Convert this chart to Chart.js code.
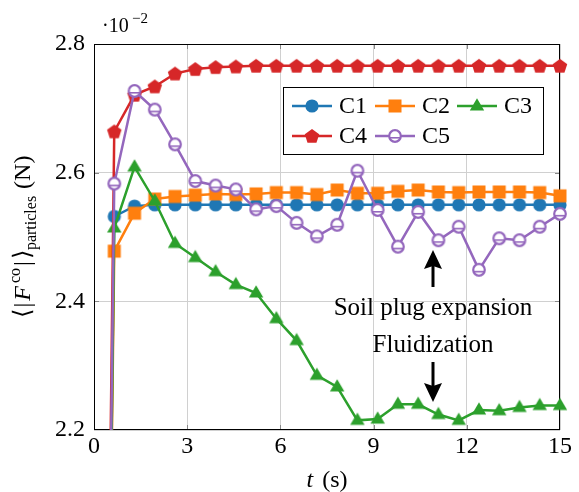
<!DOCTYPE html>
<html lang="en">
<head>
<meta charset="UTF-8">
<title>Contact force vs time</title>
<script src="https://cdn.jsdelivr.net/npm/chart.js@4.4.1/dist/chart.umd.min.js"></script>
<style>
  body { margin: 0; background: #fff; }
  #wrap { width: 579px; height: 492px; position: relative; }
</style>
</head>
<body>
<div id="wrap"><canvas id="forceChart"></canvas></div>
<script>
// time samples (s)
const times = [0, 0.652, 1.304, 1.957, 2.609, 3.261, 3.913, 4.565, 5.217, 5.870, 6.522, 7.174,
               7.826, 8.478, 9.130, 9.783, 10.435, 11.087, 11.739, 12.391, 13.043, 13.696, 14.348, 15];

// mean contact force, x 1e-2 N
const c1 = [0, 2.532, 2.548, 2.550, 2.550, 2.550, 2.550, 2.550, 2.550, 2.550, 2.550, 2.550,
            2.550, 2.550, 2.550, 2.550, 2.550, 2.550, 2.550, 2.550, 2.550, 2.550, 2.550, 2.550];
const c2 = [0, 2.478, 2.537, 2.559, 2.563, 2.565, 2.567, 2.566, 2.567, 2.569, 2.569, 2.566,
            2.573, 2.568, 2.568, 2.571, 2.573, 2.570, 2.569, 2.570, 2.570, 2.570, 2.569, 2.564];
const c3 = [0, 2.514, 2.609, 2.556, 2.490, 2.468, 2.446, 2.426, 2.413, 2.373, 2.339, 2.285,
            2.267, 2.215, 2.217, 2.240, 2.240, 2.224, 2.215, 2.231, 2.230, 2.235, 2.238, 2.238];
const c4 = [0, 2.664, 2.721, 2.734, 2.754, 2.761, 2.764, 2.765, 2.766, 2.766, 2.766, 2.766,
            2.766, 2.766, 2.766, 2.766, 2.766, 2.766, 2.766, 2.766, 2.766, 2.766, 2.766, 2.766];
const c5 = [0, 2.583, 2.727, 2.698, 2.644, 2.587, 2.580, 2.574, 2.543, 2.548, 2.522, 2.501,
            2.519, 2.603, 2.542, 2.485, 2.539, 2.495, 2.516, 2.449, 2.498, 2.495, 2.516, 2.536];

const seriesNames = ['C1', 'C2', 'C3', 'C4', 'C5'];
const xTicks = [0, 3, 6, 9, 12, 15];
const yTicks = [2.2, 2.4, 2.6, 2.8];

const colors = ['#1f77b4', '#ff7f0e', '#2ca02c', '#d62728', '#9467bd'];
const serif = '"Liberation Serif", "Times New Roman", serif';

// marker images
function makeMarker(draw) {
    const c = document.createElement('canvas');
    c.width = 20; c.height = 20;
    draw(c.getContext('2d'));
    return c;
}
const markers = [
    makeMarker(g => { g.fillStyle = colors[0]; g.beginPath(); g.arc(10, 10, 6.6, 0, Math.PI * 2); g.fill(); }),
    makeMarker(g => { g.fillStyle = colors[1]; g.fillRect(3.5, 3.5, 13, 13); }),
    makeMarker(g => {
        g.fillStyle = colors[2]; g.beginPath();
        g.moveTo(10, 2.2); g.lineTo(17.2, 14.6); g.lineTo(2.8, 14.6); g.closePath(); g.fill();
    }),
    makeMarker(g => {
        g.fillStyle = colors[3]; g.beginPath();
        for (let k = 0; k < 5; k++) {
            const a = -Math.PI / 2 + k * 2 * Math.PI / 5;
            const px = 10 + 7.6 * Math.cos(a), py = 10.6 + 7.6 * Math.sin(a);
            if (k === 0) g.moveTo(px, py); else g.lineTo(px, py);
        }
        g.closePath(); g.fill();
    }),
    makeMarker(g => {
        g.fillStyle = '#fff'; g.strokeStyle = colors[4]; g.lineWidth = 2.2;
        g.beginPath(); g.arc(10, 10, 5.8, 0, Math.PI * 2); g.fill(); g.stroke();
        g.lineWidth = 1.6; g.beginPath(); g.moveTo(4.6, 11.8); g.lineTo(15.4, 11.8); g.stroke();
    })
];

const allSeries = [c1, c2, c3, c4, c5];
const datasets = allSeries.map((vals, k) => ({
    label: seriesNames[k],
    data: times.map((t, i) => ({ x: t, y: vals[i] })),
    borderColor: colors[k],
    backgroundColor: colors[k],
    borderWidth: 2.5,
    pointStyle: markers[k],
    pointRadius: 6,
    pointHoverRadius: 6,
    tension: 0,
    fill: false,
    order: 5 - k,
    clip: { left: 12, right: 12, top: 12, bottom: 0 }
}));

const decor = {
    id: 'decor',
    beforeDatasetsDraw(chart) {
        const { ctx, chartArea: a, scales } = chart;
        ctx.save();
        ctx.strokeStyle = '#888'; ctx.lineWidth = 1;
        xTicks.slice(1, -1).forEach(v => {
            const px = Math.round(scales.x.getPixelForValue(v)) + 0.5;
            ctx.beginPath();
            ctx.moveTo(px, a.bottom); ctx.lineTo(px, a.bottom - 5);
            ctx.moveTo(px, a.top); ctx.lineTo(px, a.top + 5);
            ctx.stroke();
        });
        yTicks.slice(1, -1).forEach(v => {
            const py = Math.round(scales.y.getPixelForValue(v)) + 0.5;
            ctx.beginPath();
            ctx.moveTo(a.left, py); ctx.lineTo(a.left + 5, py);
            ctx.moveTo(a.right, py); ctx.lineTo(a.right - 5, py);
            ctx.stroke();
        });
        ctx.strokeStyle = '#000';
        ctx.strokeRect(a.left + 0.5, a.top + 0.5, a.right - a.left - 1, a.bottom - a.top - 1);
        ctx.restore();
    },
    afterDatasetsDraw(chart) {
        const ctx = chart.ctx;
        ctx.save();

        // legend
        ctx.fillStyle = '#fff'; ctx.strokeStyle = '#000'; ctx.lineWidth = 1;
        ctx.fillRect(283, 87, 261, 68);
        ctx.strokeRect(283.5, 87.5, 260, 67);
        const colX = [292, 375, 457], rowY = [106, 136];
        seriesNames.forEach((name, k) => {
            const x0 = colX[k % 3], y0 = rowY[Math.floor(k / 3)];
            ctx.strokeStyle = colors[k]; ctx.lineWidth = 2.5;
            ctx.beginPath(); ctx.moveTo(x0, y0); ctx.lineTo(x0 + 40, y0); ctx.stroke();
            ctx.drawImage(markers[k], x0 + 20 - 10, y0 - 10);
            ctx.fillStyle = '#000'; ctx.font = '24px ' + serif;
            ctx.textAlign = 'left'; ctx.textBaseline = 'alphabetic';
            ctx.fillText(name, x0 + 47, y0 + 6.5);
        });

        // annotations
        ctx.fillStyle = '#000'; ctx.strokeStyle = '#000';
        ctx.font = '25px ' + serif; ctx.textAlign = 'center';
        ctx.fillText('Soil plug expansion', 433, 315);
        ctx.fillText('Fluidization', 433, 352);
        ctx.lineWidth = 3;
        ctx.beginPath(); ctx.moveTo(433, 287); ctx.lineTo(433, 264); ctx.stroke();
        ctx.beginPath(); ctx.moveTo(433, 250); ctx.lineTo(442, 269); ctx.lineTo(433, 266); ctx.lineTo(424, 269); ctx.closePath(); ctx.fill();
        ctx.beginPath(); ctx.moveTo(433, 362); ctx.lineTo(433, 388); ctx.stroke();
        ctx.beginPath(); ctx.moveTo(433, 402); ctx.lineTo(442, 383); ctx.lineTo(433, 386); ctx.lineTo(424, 383); ctx.closePath(); ctx.fill();
        ctx.restore();
    },
    afterDraw(chart) {
        const ctx = chart.ctx;
        ctx.save();
        ctx.fillStyle = '#000'; ctx.textBaseline = 'alphabetic'; ctx.textAlign = 'left';

        // scale factor
        ctx.font = '20px ' + serif;
        ctx.fillText('\u00b710', 102, 32);
        ctx.font = '15px ' + serif;
        ctx.fillText('\u22122', 132, 23);

        // x title
        const xa = chart.chartArea;
        const xMid = (xa.left + xa.right) / 2;
        ctx.font = 'italic 24px ' + serif;
        const wt = ctx.measureText('t').width;
        ctx.font = '24px ' + serif;
        const ws = ctx.measureText(' (s)').width;
        let x = xMid - (wt + ws + 3) / 2;
        ctx.font = 'italic 24px ' + serif; ctx.fillText('t', x, 487);
        ctx.font = '24px ' + serif; ctx.fillText(' (s)', x + wt + 3, 487);

        // y title
        const big = '24px ' + serif, it = 'italic 24px ' + serif, small = '16px ' + serif;
        const parts = [
            { t: '\u27e8', f: big, dy: 0, gap: 2 },
            { t: '|', f: big, dy: 0, gap: 2 },
            { t: 'F', f: it, dy: 0, gap: 3 },
            { t: 'co', f: small, dy: -10, gap: 2 },
            { t: '|', f: big, dy: 0, gap: 2 },
            { t: '\u27e9', f: big, dy: 0, gap: 0 },
            { t: 'particles', f: small, dy: 6, gap: 7 },
            { t: '(N)', f: big, dy: 0, gap: 0 }
        ];
        let total = 0;
        parts.forEach(p => { ctx.font = p.f; p.w = ctx.measureText(p.t).width; total += p.w + p.gap; });
        ctx.translate(30, (xa.top + xa.bottom) / 2);
        ctx.rotate(-Math.PI / 2);
        let px = -total / 2;
        parts.forEach(p => { ctx.font = p.f; ctx.fillText(p.t, px, p.dy); px += p.w + p.gap; });
        ctx.restore();
    }
};

new Chart(document.getElementById('forceChart'), {
    type: 'line',
    data: { datasets: datasets },
    options: {
        responsive: true,
        maintainAspectRatio: false,
        animation: false,
        events: [],
        layout: { padding: { left: 0, right: 19, top: 44, bottom: 0 } },
        plugins: { legend: { display: false }, tooltip: { enabled: false } },
        scales: {
            x: {
                type: 'linear', min: 0, max: 15,
                afterBuildTicks: s => { s.ticks = xTicks.map(v => ({ value: v })); },
                ticks: { color: '#000', font: { family: serif, size: 24 }, padding: 2, maxRotation: 0 },
                grid: { color: '#d0d0d0', drawTicks: false },
                border: { display: false },
                afterFit: s => { s.height = 62; }
            },
            y: {
                type: 'linear', min: 2.2, max: 2.8,
                afterBuildTicks: s => { s.ticks = yTicks.map(v => ({ value: v })); },
                ticks: { color: '#000', font: { family: serif, size: 24 }, padding: 9,
                         callback: v => v.toFixed(1) },
                grid: { color: '#d0d0d0', drawTicks: false },
                border: { display: false },
                afterFit: s => { s.width = 94; }
            }
        }
    },
    plugins: [decor]
});
</script>
</body>
</html>
